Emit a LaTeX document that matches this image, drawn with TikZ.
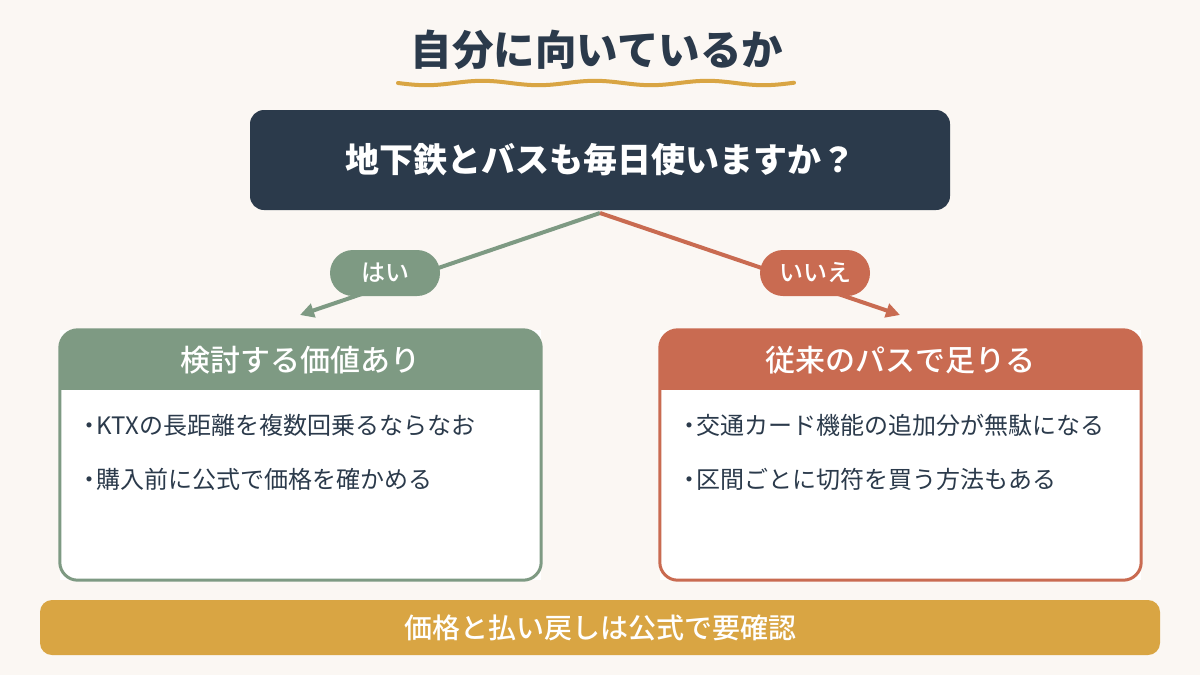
\documentclass[tikz,border=0pt]{standalone}
\usepackage{fontspec}
\setmainfont{Noto Sans CJK JP}
\newfontfamily\medfont{Noto Sans CJK JP}[UprightFont=* Medium]
\usetikzlibrary{arrows.meta,positioning}
\definecolor{paper}{HTML}{FBF7F3}
\definecolor{navy}{HTML}{2B3A4B}
\definecolor{sage}{HTML}{7E9A83}
\definecolor{terra}{HTML}{C96B51}
\definecolor{gold}{HTML}{D9A543}
\newcommand{\dotmark}{\makebox[0.6em][c]{・}}
\tikzset{
  pill/.style={fill=#1,text=white,rounded corners=23pt,minimum width=110pt,minimum height=46pt,inner sep=0pt,font=\medfont\fontsize{24}{24}\selectfont},
  panel/.style={fill=white,minimum width=481pt,minimum height=250pt,inner sep=0pt},
  head/.style={text=white,font=\medfont\fontsize{30}{30}\selectfont},
  item/.style={anchor=west,text=navy,inner sep=0pt,font=\fontsize{24}{24}\selectfont},
  branch/.style={draw=#1,line width=4pt,-{Triangle[length=14pt,width=14pt]}}
}
\begin{document}
\begin{tikzpicture}[x=1pt,y=-1pt]
\fill[paper] (0,0) rectangle (1200,675);
\useasboundingbox (0,0) rectangle (1200,675);
\node[text=navy,font=\bfseries\fontsize{41.5}{41.5}\selectfont] (title) at (597,50) {自分に向いているか};
\draw[gold,line width=4pt,line cap=round] plot[domain=398:794,samples=90,smooth] (\x,{83+2.2*sin((\x-398)*3.2)});
\node[fill=navy,rounded corners=14pt,minimum width=700pt,minimum height=100pt,text=white,font=\bfseries\fontsize{34}{34}\selectfont] (q) at (600,160) {地下鉄とバスも毎日使いますか？};
\coordinate (fork) at (600,213);
\coordinate (yesend) at (300,315);
\coordinate (noend) at (900,315);
\draw[branch=sage] (fork) -- (yesend);
\draw[branch=terra] (fork) -- (noend);
\node[pill=sage] (yes) at (385,273) {はい};
\node[pill=terra] (no) at (815,273) {いいえ};
\foreach \nm/\col/\cx/\hd/\ia/\ib in {yesbox/sage/300.5/検討する価値あり/KTXの長距離を複数回乗るならなお/購入前に公式で価格を確かめる,
  nobox/terra/900.5/従来のパスで足りる/交通カード機能の追加分が無駄になる/区間ごとに切符を買う方法もある} {
  \node[panel] (\nm) at (\cx,455) {};
  \begin{scope}
    \clip[rounded corners=18pt] (\nm.north west) rectangle (\nm.south east);
    \fill[\col] (\nm.north west) rectangle ([yshift=-60pt]\nm.north east);
  \end{scope}
  \draw[\col,line width=3pt,rounded corners=18pt] (\nm.north west) rectangle (\nm.south east);
  \node[head] (\nm-head) at ([yshift=-30pt]\nm.north) {\hd};
  \node[item] (\nm-a) at ([xshift=22pt,yshift=-96pt]\nm.north west) {\dotmark\ia};
  \node[item] (\nm-b) at ([xshift=22pt,yshift=-150pt]\nm.north west) {\dotmark\ib};
}
\node[fill=gold,rounded corners=12pt,minimum width=1120pt,minimum height=55pt,text=white,font=\medfont\fontsize{28}{28}\selectfont] (note) at (600,627.5) {価格と払い戻しは公式で要確認};
\end{tikzpicture}
\end{document}
